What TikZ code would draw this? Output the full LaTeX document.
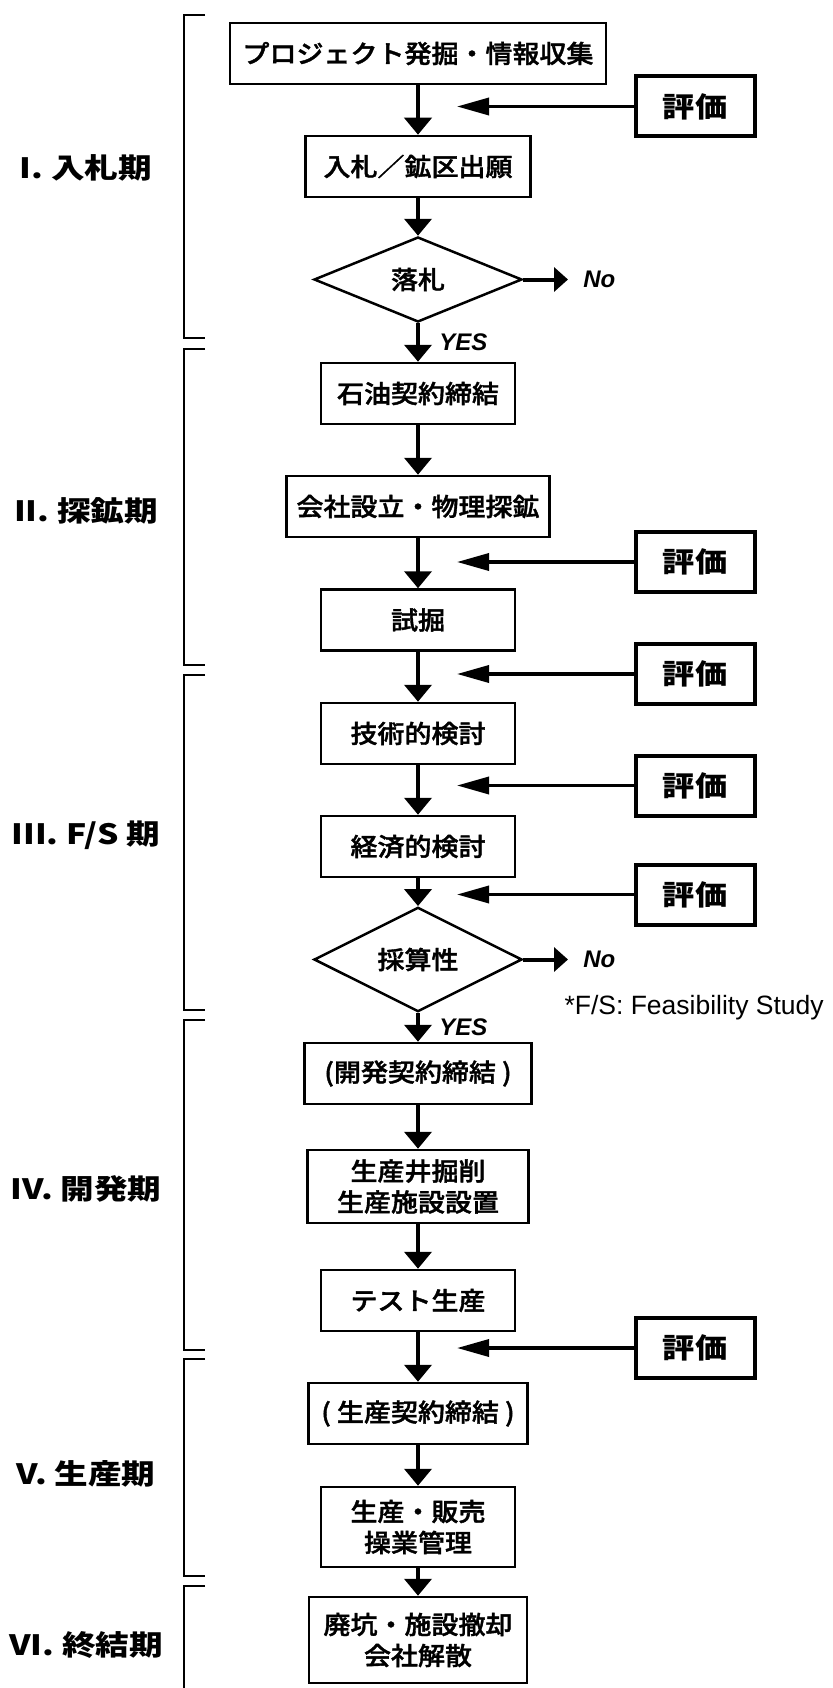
\documentclass[tikz,border=0pt]{standalone}
\usepackage{fontspec}
\setmainfont{Liberation Sans}
\newfontfamily\lat{Liberation Sans}
\IfFontExistsTF{Noto Sans CJK JP Medium}{%
  \newfontfamily\jpbox{Noto Sans CJK JP Medium}[FakeStretch=1.08, FakeBold=1.5]%
}{%
  \newfontfamily\jpbox{Noto Sans CJK JP}[FakeStretch=1.08, FakeBold=3.2]%
}
\IfFontExistsTF{Noto Sans CJK JP Black}{%
  \newfontfamily\jph{Noto Sans CJK JP Black}[FakeStretch=1.2]%
  \newfontfamily\jpe{Noto Sans CJK JP Black}[FakeStretch=1.15]%
}{%
  \newfontfamily\jph{Noto Sans CJK JP Bold}[FakeStretch=1.2, FakeBold=6]%
  \newfontfamily\jpe{Noto Sans CJK JP Bold}[FakeStretch=1.15, FakeBold=6]%
}
\usetikzlibrary{arrows.meta, shapes.geometric}
\begin{document}
\begin{tikzpicture}[x=1pt, y=-1pt,
  box/.style={draw, line width=2.5pt, inner sep=0pt, minimum height=61pt,
    align=center, font=\jpbox\fontsize{25}{31}\selectfont},
  decision/.style={draw, diamond, line width=2.5pt, inner sep=0pt,
    minimum width=208pt, minimum height=85pt, font=\jpbox\fontsize{25}{31}\selectfont},
  evalbox/.style={draw, line width=4pt, inner sep=0pt, minimum width=119pt,
    minimum height=60pt, font=\jpe\fontsize{28}{30}\selectfont},
  flow/.style={line width=4pt, -{Triangle[length=17pt, width=27pt]}},
  noflow/.style={line width=4pt, -{Triangle[length=14pt, width=24pt]}},
  evalarrow/.style={line width=3.5pt, -{Triangle[length=32pt, width=17pt]}},
  phase/.style={font=\jph\fontsize{28}{30}\selectfont},
  yn/.style={font=\lat\bfseries\itshape\fontsize{24}{26}\selectfont},
  brk/.style={line width=2.3pt},
]
\fill[white] (0,0) rectangle (832,1688);
\useasboundingbox (0,0) rectangle (832,1688);

% phase labels
\node[phase] (ph1) at (86,168) {I. 入札期};
\node[phase] (ph2) at (86,511) {II. 探鉱期};
\node[phase] (ph3) at (86,835) {III. F/S 期};
\node[phase] (ph4) at (86,1189) {IV. 開発期};
\node[phase] (ph5) at (86,1474) {V. 生産期};
\node[phase] (ph6) at (86,1645) {VI. 終結期};

% brackets
\draw[brk] (205,15) -- (184,15) -- (184,338) -- (205,338);
\draw[brk] (205,349) -- (184,349) -- (184,665) -- (205,665);
\draw[brk] (205,675) -- (184,675) -- (184,1010) -- (205,1010);
\draw[brk] (205,1020) -- (184,1020) -- (184,1350) -- (205,1350);
\draw[brk] (205,1359) -- (184,1359) -- (184,1576) -- (205,1576);
\draw[brk] (205,1586) -- (184,1586) -- (184,1692);

% main flow
\node[box, minimum width=376pt] (b1) at (418,53.5) {プロジェクト発掘・情報収集};
\node[box, minimum width=225pt] (b2) at (418,166.5) {入札／鉱区出願};
\node[decision] (d1) at (418,279.5) {落札};
\node[box, minimum width=194pt] (b3) at (418,393.5) {石油契約締結};
\node[box, minimum width=263pt] (b4) at (418,506.5) {会社設立・物理探鉱};
\node[box, minimum width=194pt] (b5) at (418,620) {試掘};
\node[box, minimum width=194pt] (b6) at (418,733.5) {技術的検討};
\node[box, minimum width=194pt] (b7) at (418,846.5) {経済的検討};
\node[decision] (d2) at (418,959.5) {採算性};
\node[box, minimum width=227pt] (b8) at (418,1073.5) {(開発契約締結 )};
\node[box, minimum width=221pt, minimum height=73pt] (b9) at (418,1186.5) {生産井掘削\\生産施設設置};
\node[box, minimum width=194pt] (b10) at (418,1300.5) {テスト生産};
\node[box, minimum width=219pt] (b11) at (418,1413.5) {( 生産契約締結 )};
\node[box, minimum width=194pt, minimum height=80pt] (b12) at (418,1527) {生産・販売\\操業管理};
\node[box, minimum width=218pt, minimum height=86pt] (b13) at (418,1640) {廃坑・施設撤却\\会社解散};

\draw[flow] (b1) -- (b2);
\draw[flow] (b2) -- (d1);
\draw[flow] (d1) -- (b3) node[midway, right=16pt, yn] (yes1) {YES};
\draw[flow] (b3) -- (b4);
\draw[flow] (b4) -- (b5);
\draw[flow] (b5) -- (b6);
\draw[flow] (b6) -- (b7);
\draw[flow] (b7) -- (d2);
\draw[flow] (d2) -- (b8) node[midway, right=16pt, yn] (yes2) {YES};
\draw[flow] (b8) -- (b9);
\draw[flow] (b9) -- (b10);
\draw[flow] (b10) -- (b11);
\draw[flow] (b11) -- (b12);
\draw[flow] (b12) -- (b13);

% No branches
\coordinate (n1) at (568,279.5);
\coordinate (n2) at (568,959.5);
\draw[noflow] (d1.east) -- (n1) node[right=10pt, yn] (no1) {No};
\draw[noflow] (d2.east) -- (n2) node[right=10pt, yn] (no2) {No};

% evaluation boxes
\node[evalbox] (e1) at (695,106.5) {評価};
\node[evalbox] (e2) at (695,562) {評価};
\node[evalbox] (e3) at (695,674) {評価};
\node[evalbox] (e4) at (695,785.5) {評価};
\node[evalbox] (e5) at (695,894.5) {評価};
\node[evalbox] (e6) at (695,1348) {評価};
\coordinate (ax) at (457,0);
\foreach \e in {e1,e2,e3,e4,e5,e6}
  \draw[evalarrow] (\e.west) -- (\e.west -| ax);

% footnote
\node[anchor=west, font=\lat\fontsize{26.5}{28}\selectfont] (fsnote) at (561,1008) {*F/S: Feasibility Study};
\end{tikzpicture}
\end{document}
